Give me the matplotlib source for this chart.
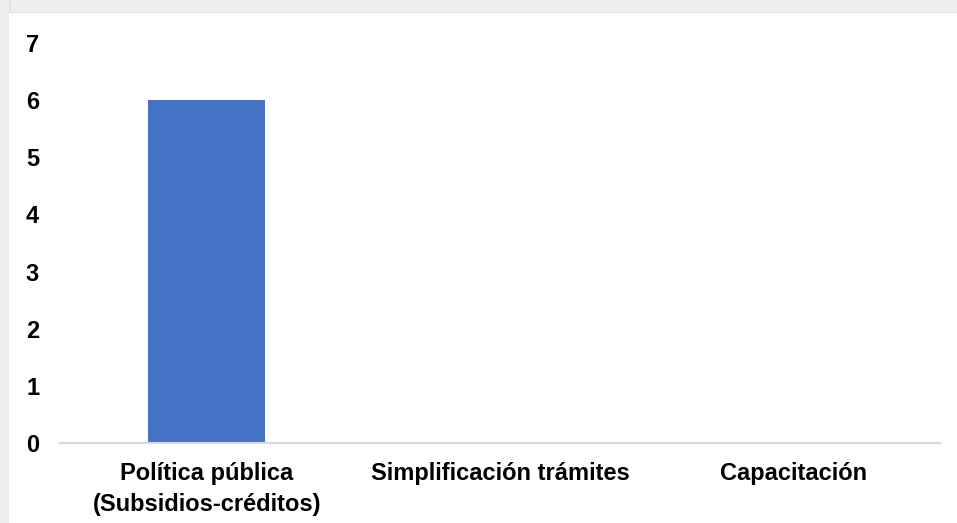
import matplotlib
matplotlib.use("Agg")
import matplotlib.pyplot as plt
from matplotlib.patches import Rectangle

categories = ["Política pública\n(Subsidios-créditos)", "Simplificación trámites", "Capacitación"]
values = [6, 0, 0]
yticks = [0, 1, 2, 3, 4, 5, 6, 7]

plt.rcParams['font.family'] = ['Liberation Sans', 'DejaVu Sans']

W, H = 957, 523
fig = plt.figure(figsize=(W / 100, H / 100), dpi=100)
fig.patch.set_facecolor('white')

# frame shadow (top and left bands)
fig.patches.append(Rectangle((0, 1 - 12 / H), 1, 12 / H, transform=fig.transFigure,
                             facecolor='#efefef', edgecolor='none', zorder=0))
fig.patches.append(Rectangle((0, 0), 9 / W, 1, transform=fig.transFigure,
                             facecolor='#efefef', edgecolor='none', zorder=0))
fig.patches.append(Rectangle((9 / W, 1 - 12 / H), 1.5 / W, (H - 12) / H, transform=fig.transFigure,
                             facecolor='#e2e2e2', edgecolor='none', zorder=0))
fig.patches.append(Rectangle((9 / W, 1 - 13 / H), 1 - 9 / W, 1.5 / H, transform=fig.transFigure,
                             facecolor='#e2e2e2', edgecolor='none', zorder=0))

left, right = 60, 940
top, bottom = 43, 443
ax = fig.add_axes([left / W, 1 - bottom / H, (right - left) / W, (bottom - top) / H])
ax.set_facecolor('none')

x = list(range(len(categories)))
ax.bar(x, values, width=0.4, color='#4472c4', zorder=2)
ax.set_xlim(-0.5, len(categories) - 0.5)
ax.set_ylim(0, 7)
ax.set_yticks(yticks)
ax.set_yticklabels([str(v) for v in yticks], fontsize=17, fontweight='bold')
ax.set_xticks(x)
ax.set_xticklabels(categories, fontsize=17, fontweight='bold', linespacing=1.45)

for s in ['top', 'right', 'left']:
    ax.spines[s].set_visible(False)
ax.spines['bottom'].set_color('#d9d9d9')
ax.spines['bottom'].set_linewidth(1.5)
ax.tick_params(axis='both', length=0)
ax.tick_params(axis='y', pad=15)
ax.tick_params(axis='x', pad=13.5)

fig.savefig('out.png', dpi=100, facecolor=fig.get_facecolor())
